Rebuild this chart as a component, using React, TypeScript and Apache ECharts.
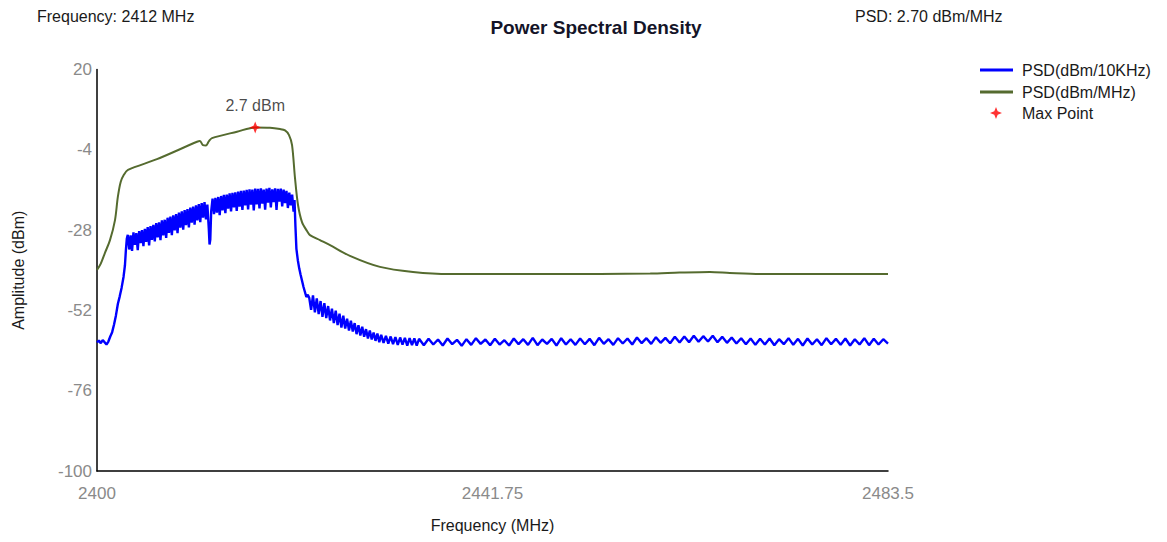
import React, { useEffect, useRef } from "react";
import * as echarts from "echarts";

// PSD (dBm/MHz) — smooth envelope [frequency MHz, dBm]
const psdMHz: [number, number][] = [
  [2400.0, -39.9], [2400.4, -38.0], [2400.84, -34.8], [2401.37, -31.0], [2401.9, -25.0],
  [2402.2, -18.1], [2402.5, -13.6], [2402.85, -11.4], [2403.27, -10.0], [2406.33, -6.8],
  [2410.56, -1.6], [2410.87, -1.4], [2411.19, -2.6], [2411.5, -2.7], [2411.82, -1.4],
  [2412.14, -0.5], [2414.78, 1.4], [2416.7, 2.7], [2418.26, 2.6], [2419.32, 2.2],
  [2419.85, 1.8], [2420.27, 0.4], [2420.59, -2.6], [2420.9, -12.4], [2421.22, -20.5],
  [2421.64, -25.6], [2422.17, -28.3], [2422.48, -29.5], [2423.54, -31.0], [2424.6, -32.5],
  [2426.7, -35.7], [2429.87, -39.0], [2433.36, -40.5], [2437.26, -41.1], [2447.8, -41.1],
  [2453.1, -41.1], [2458.4, -41.0], [2461.5, -40.7], [2464.7, -40.5], [2466.8, -40.8],
  [2470.0, -41.1], [2474.2, -41.1], [2483.5, -41.1],
];

// PSD (dBm/10KHz) — noisy trace [frequency MHz, dBm]
const psd10k: [number, number][] = [
  [2400.0, -61.6], [2400.2, -61.0], [2400.4, -61.8], [2400.6, -60.9], [2400.8, -61.5],
  [2401.0, -62.2], [2401.2, -61.3], [2401.4, -59.8], [2401.6, -58.5], [2401.8, -56.2],
  [2402.0, -53.5], [2402.2, -50.1], [2402.4, -47.8], [2402.6, -45.2], [2402.8, -42.0],
  [2402.95, -38.5], [2403.05, -34.0], [2403.15, -30.5],
  [2403.25, -29.4], [2403.4, -33.8], [2403.55, -29.6], [2403.7, -34.2], [2403.85, -28.7],
  [2404.0, -32.4], [2404.15, -28.9], [2404.3, -34.0], [2404.45, -28.3], [2404.6, -31.9],
  [2404.75, -28.0], [2404.9, -32.8], [2405.05, -27.6], [2405.2, -31.5], [2405.35, -27.1],
  [2405.5, -32.6], [2405.65, -26.8], [2405.8, -30.9], [2405.95, -26.4], [2406.1, -31.4],
  [2406.25, -25.9], [2406.4, -30.2], [2406.55, -25.7], [2406.7, -31.0], [2406.85, -25.1],
  [2407.0, -29.6], [2407.15, -24.9], [2407.3, -30.3], [2407.45, -24.3], [2407.6, -28.8],
  [2407.75, -24.0], [2407.9, -29.5], [2408.05, -23.6], [2408.2, -28.1], [2408.35, -23.2],
  [2408.5, -28.9], [2408.65, -22.8], [2408.8, -27.3], [2408.95, -22.4], [2409.1, -27.9],
  [2409.25, -22.0], [2409.4, -26.5], [2409.55, -21.7], [2409.7, -27.2], [2409.85, -21.3],
  [2410.0, -25.8], [2410.15, -21.0], [2410.3, -26.4], [2410.45, -20.6], [2410.6, -25.1],
  [2410.75, -20.2], [2410.9, -25.6], [2411.05, -19.9], [2411.2, -24.3], [2411.35, -19.6],
  [2411.5, -24.8], [2411.65, -20.4], [2411.8, -27.5], [2411.88, -32.3], [2411.96, -30.8],
  [2412.05, -22.5], [2412.2, -18.6], [2412.35, -23.2], [2412.5, -18.4], [2412.65, -22.8],
  [2412.8, -18.1], [2412.95, -23.5], [2413.1, -17.8], [2413.25, -22.1], [2413.4, -17.5],
  [2413.55, -22.9], [2413.7, -17.4], [2413.85, -21.6], [2414.0, -17.0], [2414.15, -22.4],
  [2414.3, -16.9], [2414.45, -21.2], [2414.6, -16.7], [2414.75, -22.3], [2414.9, -16.5],
  [2415.05, -21.0], [2415.2, -16.3], [2415.35, -22.0], [2415.5, -16.2], [2415.65, -20.6],
  [2415.8, -16.0], [2415.95, -21.8], [2416.1, -15.8], [2416.25, -20.4], [2416.4, -15.9],
  [2416.55, -22.1], [2416.7, -15.6], [2416.85, -20.3], [2417.0, -15.7], [2417.15, -21.5],
  [2417.3, -15.5], [2417.45, -20.1], [2417.6, -15.9], [2417.75, -21.9], [2417.9, -15.6],
  [2418.05, -19.8], [2418.2, -15.4], [2418.35, -21.2], [2418.5, -15.8], [2418.65, -19.6],
  [2418.8, -15.5], [2418.95, -22.0], [2419.1, -15.7], [2419.25, -19.5], [2419.4, -15.6],
  [2419.55, -20.9], [2419.7, -15.9], [2419.85, -19.9], [2420.0, -16.3], [2420.15, -21.4],
  [2420.3, -16.8], [2420.45, -20.6], [2420.6, -17.4], [2420.75, -22.5], [2420.85, -19.0],
  [2420.95, -27.0], [2421.05, -33.6], [2421.2, -37.0], [2421.35, -39.5], [2421.5, -41.4],
  [2421.65, -43.2], [2421.8, -45.0], [2421.95, -46.5], [2422.1, -48.0], [2422.25, -47.3],
  [2422.4, -48.2], [2422.6, -51.8], [2422.8, -47.5], [2423.0, -52.6], [2423.2, -48.4],
  [2423.4, -53.1], [2423.6, -49.2], [2423.8, -53.9], [2424.0, -49.8], [2424.2, -54.3],
  [2424.4, -50.7], [2424.6, -55.0], [2424.8, -51.5], [2425.0, -55.8], [2425.2, -52.1],
  [2425.4, -56.4], [2425.6, -53.0], [2425.8, -57.1], [2426.0, -53.6], [2426.2, -57.4],
  [2426.4, -54.5], [2426.6, -58.0], [2426.8, -55.1], [2427.0, -58.3], [2427.2, -55.8],
  [2427.4, -59.1], [2427.6, -56.4], [2427.8, -59.5], [2428.0, -56.9], [2428.2, -59.9],
  [2428.4, -57.6], [2428.6, -60.4], [2428.8, -58.0], [2429.0, -60.7], [2429.2, -58.6],
  [2429.4, -61.1], [2429.6, -58.9], [2429.8, -61.5], [2430.0, -59.3], [2430.25, -61.7],
  [2430.5, -59.6], [2430.75, -61.9], [2431.0, -59.8], [2431.25, -62.1], [2431.5, -60.0],
  [2431.75, -62.3], [2432.0, -60.1], [2432.25, -62.2], [2432.5, -60.2], [2432.75, -62.5],
  [2433.0, -60.3], [2433.25, -62.4], [2433.5, -60.4], [2433.75, -62.5], [2434.0, -60.5],
  [2434.5, -62.4], [2435.0, -60.5], [2435.5, -62.2], [2436.0, -60.7], [2436.5, -62.5],
  [2437.0, -60.4], [2437.5, -62.1], [2438.0, -60.8], [2438.5, -62.6], [2439.0, -60.6],
  [2439.5, -62.3], [2440.0, -60.3], [2440.5, -62.0], [2441.0, -60.7], [2441.5, -62.4],
  [2442.0, -60.5], [2442.5, -62.2], [2443.0, -60.9], [2443.5, -62.5], [2444.0, -60.4],
  [2444.5, -62.1], [2445.0, -60.6], [2445.5, -62.3], [2446.0, -60.2], [2446.5, -62.4],
  [2447.0, -60.7], [2447.5, -62.0], [2448.0, -60.5], [2448.5, -62.5], [2449.0, -60.3],
  [2449.5, -62.2], [2450.0, -60.6], [2450.5, -62.3], [2451.0, -60.4], [2451.5, -62.1],
  [2452.0, -60.5], [2452.5, -62.4], [2453.0, -60.2], [2453.5, -62.0], [2454.0, -60.6],
  [2454.5, -62.3], [2455.0, -60.3], [2455.5, -61.9], [2456.0, -60.4], [2456.5, -62.2],
  [2457.0, -60.1], [2457.5, -61.8], [2458.0, -60.3], [2458.5, -62.0], [2459.0, -60.0],
  [2459.5, -61.7], [2460.0, -60.2], [2460.5, -61.8], [2461.0, -59.9], [2461.5, -61.6],
  [2462.0, -59.8], [2462.5, -61.5], [2463.0, -59.6], [2463.5, -61.4], [2464.0, -59.7],
  [2464.5, -61.3], [2465.0, -59.6], [2465.5, -61.5], [2466.0, -59.9], [2466.5, -61.7],
  [2467.0, -60.1], [2467.5, -61.9], [2468.0, -60.3], [2468.5, -62.1], [2469.0, -60.4],
  [2469.5, -62.3], [2470.0, -60.5], [2470.5, -62.2], [2471.0, -60.4], [2471.5, -62.4],
  [2472.0, -60.6], [2472.5, -62.1], [2473.0, -60.3], [2473.5, -62.3], [2474.0, -60.5],
  [2474.5, -62.5], [2475.0, -60.4], [2475.5, -62.2], [2476.0, -60.6], [2476.5, -62.4],
  [2477.0, -60.3], [2477.5, -62.1], [2478.0, -60.5], [2478.5, -62.3], [2479.0, -60.4],
  [2479.5, -62.5], [2480.0, -60.6], [2480.5, -62.2], [2481.0, -60.3], [2481.5, -62.4],
  [2482.0, -60.5], [2482.5, -62.2], [2483.0, -60.6], [2483.5, -61.9],
];

const maxPoint: [number, number][] = [[2416.7, 2.7]];

const seriesNames = ["PSD(dBm/10KHz)", "PSD(dBm/MHz)", "Max Point"];
const headerFrequency = "Frequency: 2412 MHz";
const headerPSD = "PSD: 2.70 dBm/MHz";

const FONT = "'Liberation Sans', Arial, sans-serif";
const STAR =
  "path://M5 0 L6.4 3.6 L10 5 L6.4 6.4 L5 10 L3.6 6.4 L0 5 L3.6 3.6 Z";

export default function App() {
  const ref = useRef<HTMLDivElement>(null);

  useEffect(() => {
    if (!ref.current) return;
    const chart = echarts.init(ref.current, undefined, { renderer: "svg" });
    chart.setOption({
      animation: false,
      backgroundColor: "#ffffff",
      textStyle: { fontFamily: FONT },
      title: {
        text: "Power Spectral Density",
        left: 591,
        top: 13,
        textAlign: "center",
        textStyle: { fontSize: 19, fontWeight: "bold", color: "#141428", fontFamily: FONT },
      },
      graphic: [
        {
          type: "text",
          left: 37,
          top: 8,
          style: { text: headerFrequency, fontSize: 16, fill: "#1a1a1a", font: `16px ${FONT}` },
        },
        {
          type: "text",
          left: 855,
          top: 8,
          style: { text: headerPSD, fontSize: 16, fill: "#1a1a1a", font: `16px ${FONT}` },
        },
      ],
      legend: [
        {
          data: [seriesNames[0], seriesNames[1]],
          orient: "vertical",
          left: 980,
          top: 61,
          padding: 0,
          itemWidth: 33,
          itemHeight: 3,
          itemGap: 4,
          icon: "rect",
          textStyle: { fontSize: 16, color: "#1a1a1a", lineHeight: 18, padding: [0, 0, 0, 4], fontFamily: FONT },
        },
        {
          data: [seriesNames[2]],
          orient: "vertical",
          left: 990,
          top: 104,
          padding: 0,
          itemWidth: 12,
          itemHeight: 12,
          icon: STAR,
          textStyle: { fontSize: 16, color: "#1a1a1a", lineHeight: 18, padding: [0, 0, 0, 15], fontFamily: FONT },
        },
      ],
      grid: { left: 97, right: 279, top: 69.5, bottom: 71, containLabel: false },
      xAxis: {
        type: "value",
        min: 2400,
        max: 2483.5,
        interval: 41.75,
        axisLine: { show: true, onZero: false, lineStyle: { color: "#000", width: 1.5 } },
        axisTick: { show: false },
        splitLine: { show: false },
        axisLabel: {
          color: "#8a8a8a",
          fontSize: 17,
          margin: 14,
          fontFamily: FONT,
          formatter: (v: number) => String(v),
        },
        name: "Frequency (MHz)",
        nameLocation: "middle",
        nameGap: 46,
        nameTextStyle: { fontSize: 16, color: "#1a1a1a", fontFamily: FONT },
      },
      yAxis: {
        type: "value",
        min: -100,
        max: 20,
        interval: 24,
        axisLine: { show: true, onZero: false, lineStyle: { color: "#000", width: 1.5 } },
        axisTick: { show: false },
        splitLine: { show: false },
        axisLabel: { color: "#8a8a8a", fontSize: 17, margin: 5, fontFamily: FONT },
        name: "Amplitude (dBm)",
        nameLocation: "middle",
        nameGap: 71,
        nameTextStyle: { fontSize: 16, color: "#1a1a1a", fontFamily: FONT },
      },
      series: [
        {
          name: seriesNames[0],
          type: "line",
          data: psd10k,
          showSymbol: false,
          symbol: "none",
          color: "#0000ff",
          lineStyle: { color: "#0000ff", width: 2.4 },
          z: 2,
        },
        {
          name: seriesNames[1],
          type: "line",
          data: psdMHz,
          showSymbol: false,
          symbol: "none",
          smooth: 0.3,
          color: "#556b2f",
          lineStyle: { color: "#556b2f", width: 2 },
          z: 3,
        },
        {
          name: seriesNames[2],
          type: "scatter",
          data: maxPoint,
          symbol: STAR,
          symbolSize: 12,
          color: "#ff0000",
          itemStyle: { color: "#ff0000" },
          label: {
            show: true,
            position: "top",
            distance: 8,
            formatter: (p: any) => `${p.value[1]} dBm`,
            fontSize: 16,
            color: "#1a1a1a",
            fontFamily: FONT,
          },
          z: 5,
        },
      ],
    });
    return () => chart.dispose();
  }, []);

  return (
    <div
      ref={ref}
      style={{ position: "fixed", left: 0, top: 0, width: 1167, height: 542, background: "#fff" }}
    />
  );
}
